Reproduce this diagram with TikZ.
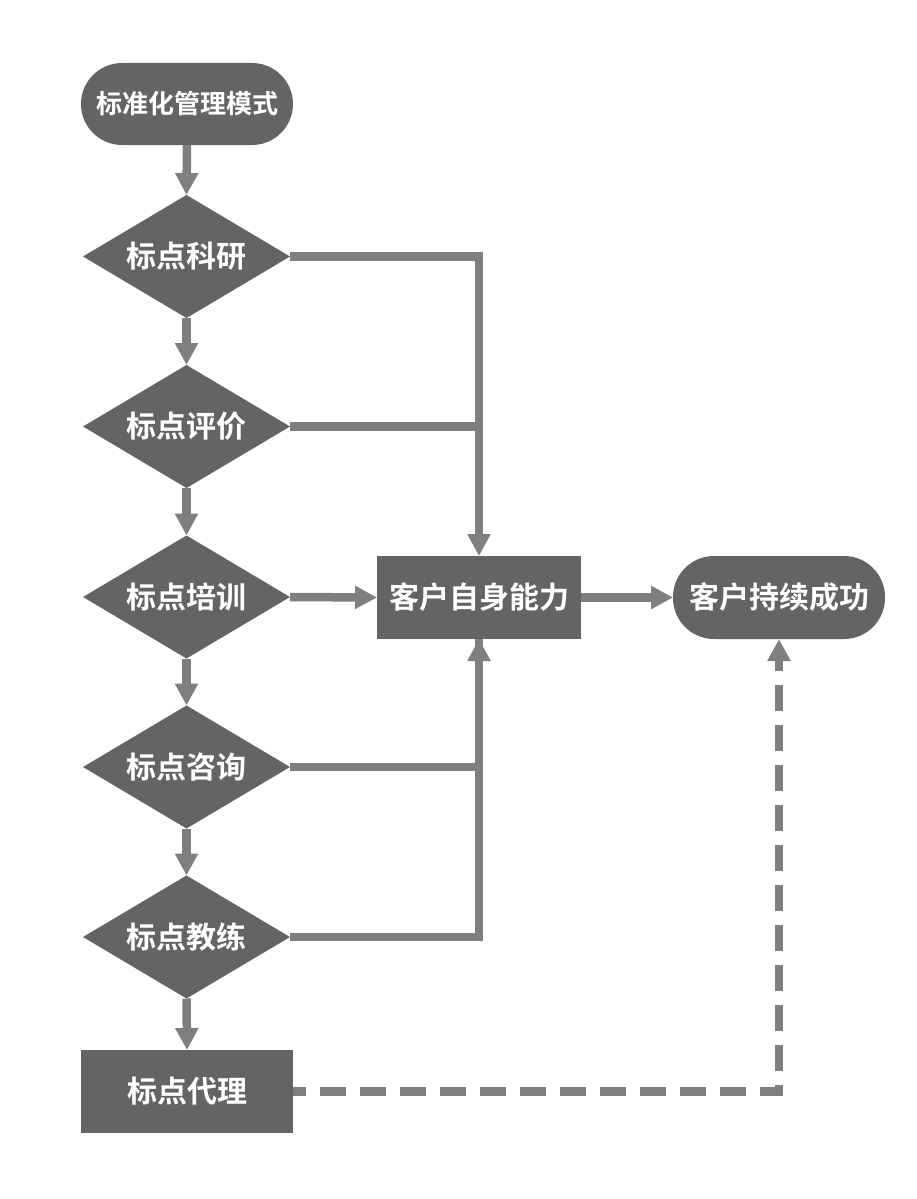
\documentclass[tikz,border=0pt]{standalone}
\usepackage{fontspec}
\newfontfamily\cjk{Noto Sans CJK SC}[BoldFont={Noto Sans CJK SC Bold}]
\usetikzlibrary{shapes.geometric,arrows.meta}
\definecolor{boxfill}{HTML}{646464}
\definecolor{linec}{HTML}{7F7F7F}
\tikzset{
  base/.style={fill=boxfill, inner sep=0pt, outer sep=0pt, text=white},
  term/.style={base, rectangle, rounded corners=41pt, minimum width=212pt, minimum height=83pt},
  boxnode/.style={base, rectangle, minimum width=212pt, minimum height=83pt},
  dia/.style={base, diamond, shape aspect=1.68, minimum width=207pt, minimum height=123pt},
  txt/.style={font=\cjk\bfseries\fontsize{30}{34}\selectfont},
  smalltxt/.style={font=\cjk\bfseries\fontsize{26}{30}\selectfont},
  conn/.style={draw=linec, line width=8.5pt, line join=miter},
  arr/.style={conn, -{Triangle[length=22pt,width=22pt]}},
  dasharr/.style={arr, dash pattern=on 26pt off 14pt, dash phase=13pt},
}
\begin{document}
\begin{tikzpicture}[x=1pt,y=-1pt]
\useasboundingbox (0,0) rectangle (916,1199);
\node[term, smalltxt, minimum height=82pt] (start) at (187,104) {标准化管理模式};
\node[dia, txt] (d1) at (186.5,256.5) {标点科研};
\node[dia, txt] (d2) at (186.5,426.5) {标点评价};
\node[dia, txt] (d3) at (186.5,597) {标点培训};
\node[dia, txt] (d4) at (186.5,767) {标点咨询};
\node[dia, txt] (d5) at (186.5,937) {标点教练};
\node[boxnode, txt] (agent) at (187,1091.5) {标点代理};
\node[boxnode, txt, minimum width=204pt] (core) at (479,597.5) {客户自身能力};
\node[term, txt] (success) at (779,597.5) {客户持续成功};

\draw[arr] (start.south) -- (d1.north);
\draw[arr] (d1.south) -- (d2.north);
\draw[arr] (d2.south) -- (d3.north);
\draw[arr] (d3.south) -- (d4.north);
\draw[arr] (d4.south) -- (d5.north);
\draw[arr] (d5.south) -- (agent.north);

\draw[arr] (d1.east) -| (core.north);
\draw[conn] (d2.east) -- (d2.east -| core.north);
\draw[arr] (d3.east) -- (core.west);
\draw[conn] (d4.east) -| (core.south);
\draw[arr] (d5.east) -| (core.south);
\draw[arr] (core.east) -- (success.west);
\draw[dasharr] (agent.east) -| (success.south);
\end{tikzpicture}
\end{document}
